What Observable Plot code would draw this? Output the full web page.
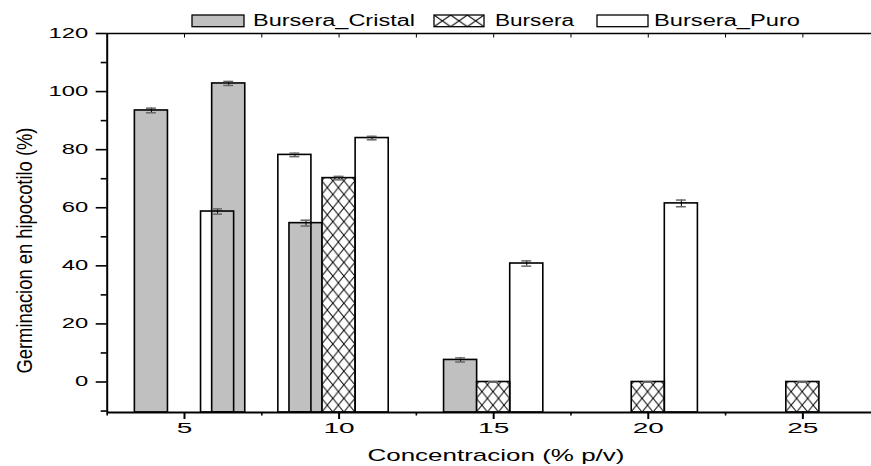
<!DOCTYPE html>
<html><head><meta charset="utf-8">
<script src="https://cdn.jsdelivr.net/npm/d3@7"></script>
<script src="https://cdn.jsdelivr.net/npm/@observablehq/plot@0.6"></script>
<style>
body{margin:0;background:#fff;}
#chart{position:relative;width:871px;height:466px;}
#chart svg{position:absolute;left:0;top:0;font-family:"Liberation Sans",Arial,sans-serif;}
</style></head><body><div id="chart"></div>
<script>
// ---- data ----
const seriesNames = ["Bursera_Cristal", "Bursera", "Bursera_Puro"];
const cristalX = [5, 7.5, 10, 15];
const cristalY = [93.5, 102.8, 54.7, 7.6];
const cristalErr = [0.8, 0.7, 1.0, 0.7];
const burseraX = [10, 15, 20, 25];
const burseraY = [70.2, 0, 0, 0];
const burseraErr = [0.6, 0, 0, 0];
const puroX = [5, 7.5, 10, 15, 20];
const puroY = [58.7, 78.2, 84.0, 40.8, 61.5];
const puroErr = [0.9, 0.6, 0.6, 0.9, 1.15];
const xTicks = [5, 10, 15, 20, 25];
const yTicks = [0, 20, 40, 60, 80, 100, 120];
const xTitle = "Concentracion (% p/v)";
const yTitle = "Germinacion en hipocotilo (%)";

// ---- layout constants ----
const W = 1.07;            // bar width in x units
const offsets = {"Bursera_Cristal": -W, "Bursera": 0, "Bursera_Puro": W};
const yBase = -10.5;
const xDomain = [2.5, 27.22];
const cap = 0.16;

const mk = (s, xs, ys, es) => xs.map((x, i) => ({s, x, y: ys[i], err: es[i], off: offsets[s]}));
const cristal = mk(seriesNames[0], cristalX, cristalY, cristalErr);
const bursera = mk(seriesNames[1], burseraX, burseraY, burseraErr);
const puro = mk(seriesNames[2], puroX, puroY, puroErr);
const all = [...cristal, ...bursera, ...puro];

const barOpts = (fill) => ({
  x1: d => d.x + d.off - W / 2, x2: d => d.x + d.off + W / 2,
  y1: yBase, y2: "y", fill, stroke: "#000", strokeWidth: 1.6
});

const plot = Plot.plot({
  width: 871, height: 466,
  marginLeft: 106.7, marginRight: 0, marginTop: 33, marginBottom: 54,
  style: {background: "transparent", overflow: "visible", fontFamily: "Liberation Sans, Arial, sans-serif"},
  x: {type: "linear", domain: xDomain},
  y: {domain: [yBase, 120]},
  marks: [
    Plot.rect(cristal, barOpts("#c0c0c0")),
    Plot.rect(bursera, barOpts("url(#xhatch)")),
    Plot.rect(puro, barOpts("none")),
    Plot.ruleX(all, {x: d => d.x + d.off, y1: d => d.y - d.err, y2: d => d.y + d.err, stroke: "#000", strokeWidth: 1}),
    Plot.ruleY(all, {y: d => d.y + d.err, x1: d => d.x + d.off - cap, x2: d => d.x + d.off + cap, stroke: "#666", strokeWidth: 1.5}),
    Plot.ruleY(all, {y: d => d.y - d.err, x1: d => d.x + d.off - cap, x2: d => d.x + d.off + cap, stroke: "#666", strokeWidth: 1.5}),
    Plot.axisY(yTicks, {tickSize: 11, tickPadding: 8, fontSize: 14, label: null, strokeWidth: 1.6, color: "#000"}),
    Plot.axisY(d3.range(-10, 120, 20), {tickSize: 6, tickFormat: () => "", label: null, strokeWidth: 1.6}),
    Plot.axisX(xTicks, {tickSize: 7, tickPadding: 4, fontSize: 14, label: null, strokeWidth: 2, color: "#000"}),
    Plot.axisX(d3.range(2.5, 27.3, 5), {tickSize: 3.5, tickFormat: () => "", label: null, strokeWidth: 1.6}),
    Plot.axisX(d3.range(5, 27.3, 2.5), {anchor: "top", tickSize: -3.5, tickFormat: () => "", label: null, strokeWidth: 1}),
    Plot.ruleX([xDomain[0]], {stroke: "#000", strokeWidth: 2}),
    Plot.ruleY([yBase], {stroke: "#000", strokeWidth: 2}),
    Plot.ruleY([120], {stroke: "#000", strokeWidth: 1.5}),
    Plot.text([xTitle], {frameAnchor: "bottom", text: d => d, dx: 6.6, dy: 36, lineAnchor: "top", fontSize: 17, fill: "#000"}),
    Plot.text([yTitle], {frameAnchor: "left", text: d => d, rotate: -90, textAnchor: "start", dx: -82.7, dy: 150.5, fontSize: 22, fill: "#000"})
  ]
});

document.getElementById("chart").appendChild(plot);
const ns = "http://www.w3.org/2000/svg";
const defs = document.createElementNS(ns, "defs");
defs.innerHTML = `
<pattern id="xhatch" patternUnits="userSpaceOnUse" x="321.8" y="412" width="11.043" height="13.6">
  <rect width="11.043" height="13.6" fill="#fff"/>
  <path d="M0,0L11.043,13.6M11.043,0L0,13.6" stroke="#000" stroke-width="1" fill="none"/>
</pattern>
<pattern id="xhatchLeg" patternUnits="userSpaceOnUse" x="434" y="15" width="16.67" height="11.7">
  <rect width="16.67" height="11.7" fill="#fff"/>
  <path d="M0,0L16.67,11.7M16.67,0L0,11.7" stroke="#000" stroke-width="1" fill="none"/>
</pattern>`;
plot.insertBefore(defs, plot.firstChild);

// stretch text horizontally like the reference
function setLen(t, len) { t.setAttribute("textLength", len); t.setAttribute("lengthAdjust", "spacingAndGlyphs"); }
plot.querySelectorAll('g[aria-label="y-axis tick label"] text').forEach(t => { const L = t.getComputedTextLength(); if (L > 0) setLen(t, L * 1.7); });
plot.querySelectorAll('g[aria-label="x-axis tick label"] text').forEach(t => { const L = t.getComputedTextLength(); if (L > 0) setLen(t, L * 2.0); });
plot.querySelectorAll("text").forEach(t => {
  if (t.textContent === xTitle) setLen(t, 257);
  if (t.textContent === yTitle) setLen(t, 246);
});

// legend
const legendItems = [
  {name: seriesNames[0], fill: "#c0c0c0", sx: 192, sw: 52, tx: 253, tw: 162},
  {name: seriesNames[1], fill: "url(#xhatchLeg)", sx: 434, sw: 50, tx: 495, tw: 79},
  {name: seriesNames[2], fill: "#fff", sx: 597, sw: 51, tx: 654, tw: 146}
];
const lg = document.createElementNS(ns, "g");
lg.setAttribute("aria-label", "legend");
for (const it of legendItems) {
  const r = document.createElementNS(ns, "rect");
  r.setAttribute("x", it.sx); r.setAttribute("y", 15); r.setAttribute("width", it.sw); r.setAttribute("height", 11.7);
  r.setAttribute("fill", it.fill); r.setAttribute("stroke", "#000"); r.setAttribute("stroke-width", 1.3);
  lg.appendChild(r);
  const t = document.createElementNS(ns, "text");
  t.setAttribute("x", it.tx); t.setAttribute("y", 25.8); t.setAttribute("font-size", 16); t.setAttribute("fill", "#000");
  t.setAttribute("text-anchor", "start");
  setLen(t, it.tw);
  t.textContent = it.name;
  lg.appendChild(t);
}
plot.appendChild(lg);
</script></body></html>
